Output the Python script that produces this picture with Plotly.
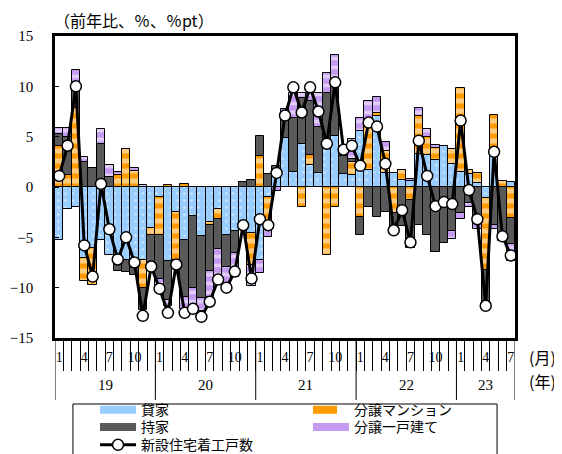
import plotly.graph_objects as go

# ---- data (前年比寄与度, %, %pt) Jan 2019 - Jul 2023 ----
months = list(range(1, 13)) * 4 + list(range(1, 8))
year_labels = ["19", "20", "21", "22", "23"]

rent = [-5.3, -2.2, -2.0, -7.1, -6.1, -5.3, -6.8, -7.4, -7.3, -7.5, -7.3, -4.1,
        -1.0, -7.4, -2.5, -5.3, -2.9, -4.9, -3.5, -2.2, -4.8, -4.4, -3.8, -4.6,
        -7.3, -1.0, 1.3, 4.9, 1.5, 4.3, 2.2, 1.4, 4.3, 5.1, 1.3, 1.2,
        5.6, 1.7, 7.1, 1.4, 1.4, 0.7, 0.6, 3.3, 3.2, 2.7, 4.1, 2.3,
        1.5, 1.3, 0.4, -1.1, 3.5, 0.0, 0.5]
condo = [4.1, 1.2, 7.8, -2.2, -3.6, 0.0, 0.0, 1.2, 3.8, 1.6, -2.7, -0.7,
         -3.8, 0.2, -4.8, 0.3, 0.0, 0.0, -0.3, -1.0, 0.0, 0.0, 0.0, -3.1,
         3.1, -3.0, 0.0, 0.0, 0.0, -2.0, 1.0, 0.0, -6.8, -2.0, 0.0, 1.3,
         -3.0, 5.1, 0.3, 2.2, -2.6, 1.0, -1.3, 3.8, 1.8, 1.2, 0.0, 1.5,
         8.3, 0.4, 1.0, -7.1, 3.7, 0.6, -3.1]
owner = [1.2, 3.8, 2.6, 2.5, 1.9, 4.3, 1.0, -0.9, -1.1, -1.2, -2.2, -3.2,
         -4.3, -3.8, -0.4, -5.6, -7.1, -6.1, -4.5, -3.0, -3.1, -2.2, 0.5, 0.7,
         2.0, 1.3, 0.8, 2.5, 5.4, 4.5, 5.3, 4.6, 5.0, 5.5, 1.8, 0.3,
         -1.8, -2.0, -3.0, -2.5, -2.1, -3.9, -4.8, -3.8, -4.8, -6.5, -5.6, -4.4,
         -2.6, -1.6, -3.7, -3.6, -3.8, -5.0, -2.6]
detached = [0.6, 0.9, 1.2, 0.5, 0.0, 1.5, 1.2, 0.3, 0.0, 0.3, 0.2, 0.0,
            -0.7, -0.6, 0.0, -1.2, -1.8, -1.3, -2.6, -2.6, -1.7, -2.3, 0.0, -2.1,
            -1.2, -1.0, -0.4, 0.3, 2.4, 0.5, 0.8, 3.3, 2.0, 2.5, 0.7, 2.0,
            1.3, 1.7, 1.5, 0.9, 0.0, 0.0, 0.2, 0.7, 0.8, 0.3, 0.0, -0.8,
            -0.6, -0.4, -0.5, 0.0, -0.4, -0.4, -1.7]
total = [1.1, 4.1, 10.0, -5.8, -8.9, 0.3, -4.2, -7.2, -5.0, -7.5, -12.8, -7.9,
         -10.1, -12.5, -7.7, -12.5, -12.1, -12.9, -11.4, -9.2, -10.0, -8.4, -3.8, -9.1,
         -3.2, -3.8, 1.4, 7.1, 9.9, 7.4, 9.9, 7.5, 4.3, 10.4, 3.7, 4.1,
         2.1, 6.4, 6.0, 2.3, -4.3, -2.3, -5.5, 4.6, 1.1, -1.9, -1.5, -1.7,
         6.6, -0.3, -3.2, -11.8, 3.5, -4.9, -6.8]

names = ["貸家", "分譲マンション", "持家", "分譲一戸建て", "新設住宅着工戸数"]

n = len(total)
xs = list(range(n))

SERIF = "Liberation Serif, Noto Sans CJK JP, serif"
JP = "Noto Sans CJK JP, sans-serif"

BLUE = "#99CCFF"
ORANGE = "#FF9900"
GRAY = "#595959"
PURPLE = "#C49BF0"

fig = go.Figure()
edge = dict(color="black", width=1)

fig.add_trace(go.Bar(x=xs, y=rent, name=names[0], showlegend=False,
                     marker=dict(color=BLUE, line=edge,
                                 pattern=dict(shape=".", fgcolor="white", bgcolor=BLUE,
                                              size=7, solidity=0.12))))
fig.add_trace(go.Bar(x=xs, y=condo, name=names[1], showlegend=False,
                     marker=dict(color=ORANGE, line=edge,
                                 pattern=dict(shape="-", fgcolor="white", bgcolor=ORANGE,
                                              size=10, solidity=0.5))))
fig.add_trace(go.Bar(x=xs, y=owner, name=names[2], showlegend=False,
                     marker=dict(color=GRAY, line=edge)))
fig.add_trace(go.Bar(x=xs, y=detached, name=names[3], showlegend=False,
                     marker=dict(color=PURPLE, line=edge,
                                 pattern=dict(shape="-", fgcolor="white", bgcolor=PURPLE,
                                              size=9, solidity=0.4))))

# legend entries (wide rectangular keys like the original), one legend per row
legend_styles = [
    dict(color=BLUE, width=8, dash="solid"),
    dict(color=ORANGE, width=8, dash="dash"),
    dict(color=GRAY, width=8, dash="solid"),
    dict(color=PURPLE, width=8, dash="solid"),
]
legend_ids = ["legend", "legend", "legend2", "legend2"]
for nm, ls, lg in zip(names[:4], legend_styles, legend_ids):
    fig.add_trace(go.Scatter(x=[None], y=[None], mode="lines", name=nm, line=ls,
                             legend=lg, hoverinfo="skip"))

fig.add_trace(go.Scatter(x=xs, y=total, mode="lines+markers", name=names[4],
                         legend="legend3",
                         line=dict(color="black", width=3),
                         marker=dict(symbol="circle", size=11, color="white",
                                     line=dict(color="black", width=1.5))))

# axis decorations
label_vals = [j for j in xs if months[j] in (1, 4, 7, 10)]
label_text = [str(months[j]) for j in label_vals]
month_bounds = [j - 0.5 for j in xs[1:]]
year_starts = [j for j in xs if months[j] == 1]
year_bounds = [j - 0.5 for j in year_starts] + [n - 0.5]
year_centers = []
for k, s in enumerate(year_starts):
    e = year_starts[k + 1] - 1 if k + 1 < len(year_starts) else n - 1
    year_centers.append((s + e) / 2)

shapes = []
for b in year_bounds:
    shapes.append(dict(type="line", xref="x", yref="paper", x0=b, x1=b,
                       y0=0, y1=-0.205, line=dict(color="black", width=1)))
# legend frame
shapes.append(dict(type="rect", xref="paper", yref="paper", x0=0.039, x1=0.961,
                   y0=-0.2185, y1=-0.45, line=dict(color="black", width=1),
                   fillcolor="rgba(0,0,0,0)"))

annotations = [
    dict(text="（前年比、％、％pt）", xref="paper", yref="paper", x=-0.006, y=1.054,
         xanchor="left", yanchor="middle", showarrow=False,
         font=dict(family=JP, size=16, color="black")),
    dict(text="(月)", xref="paper", yref="paper", x=1.026, y=-0.063,
         xanchor="left", yanchor="middle", showarrow=False,
         font=dict(family=JP, size=16, color="black")),
    dict(text="(年)", xref="paper", yref="paper", x=1.026, y=-0.142,
         xanchor="left", yanchor="middle", showarrow=False,
         font=dict(family=JP, size=16, color="black")),
]
for c, t in zip(year_centers, year_labels):
    annotations.append(dict(text=t, xref="x", yref="paper", x=c, y=-0.156,
                            xanchor="center", yanchor="middle", showarrow=False,
                            font=dict(family=SERIF, size=15, color="black")))

leg_common = dict(orientation="h", xanchor="left", yanchor="top",
                  entrywidth=162, entrywidthmode="pixels", itemwidth=36,
                  font=dict(family=JP, size=14, color="black"),
                  bgcolor="rgba(0,0,0,0)", borderwidth=0, tracegroupgap=0,
                  traceorder="normal")

fig.update_layout(
    width=562, height=454,
    margin=dict(l=47, r=55, t=28, b=124, autoexpand=False),
    paper_bgcolor="white", plot_bgcolor="white",
    barmode="relative", bargap=0,
    font=dict(family=SERIF, color="black", size=14),
    shapes=shapes, annotations=annotations,
    legend=dict(x=0.087, y=-0.186, **leg_common),
    legend2=dict(x=0.087, y=-0.243, **leg_common),
    legend3=dict(x=0.087, y=-0.302, **leg_common),
    xaxis=dict(range=[-0.5, n - 0.5], tickmode="array", tickvals=label_vals,
               ticktext=label_text, ticks="", showline=True, linecolor="black",
               linewidth=2.5, mirror=True, showgrid=False, zeroline=False,
               tickfont=dict(family=SERIF, size=14), ticklabelstandoff=4,
               minor=dict(tickmode="array", tickvals=month_bounds, ticks="outside",
                          ticklen=30, tickcolor="black", tickwidth=1, showgrid=False)),
    yaxis=dict(range=[-15, 15], tickmode="array", tickvals=[-15, -10, -5, 0, 5, 10, 15],
               ticks="inside", ticklen=4, tickcolor="black", showline=True,
               linecolor="black", linewidth=2.5, mirror=True, showgrid=False,
               zeroline=False, tickfont=dict(family=SERIF, size=15),
               ticklabelstandoff=16),
)

fig.write_html("out.html")
